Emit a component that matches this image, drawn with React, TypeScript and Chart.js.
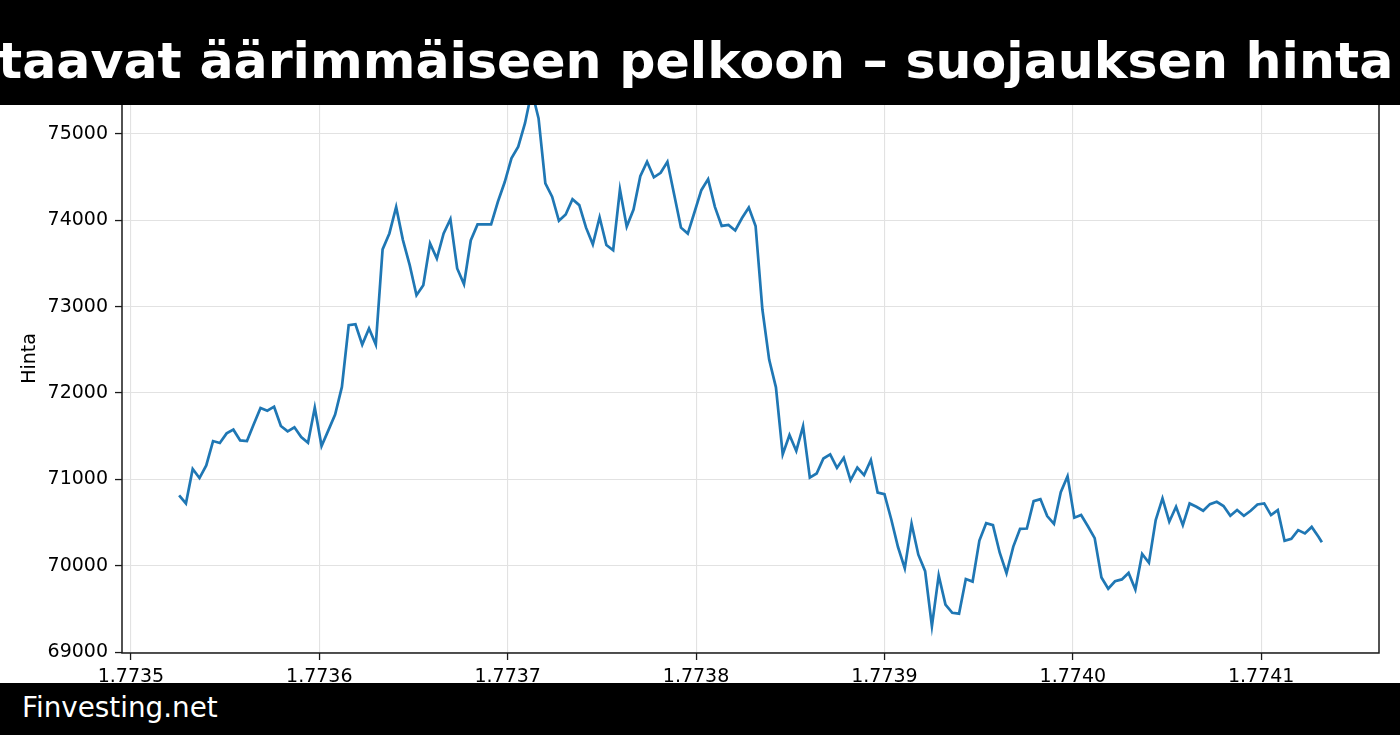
import React, { useEffect, useRef } from "react";
import { Chart, registerables } from "chart.js";

Chart.register(...registerables);

// ---- data ----
const START_TIME = 1773525600; // unix seconds of first sample
const STEP_SECONDS = 3600; // hourly samples
const LAST_STEP_SECONDS = 1800; // final (live) sample half an hour after the last hourly one

const PRICES = [
  70815, 70722, 71120, 71016, 71162, 71444, 71421, 71533, 71576, 71452,
  71444, 71638, 71827, 71796, 71842, 71618, 71556, 71603, 71491, 71425,
  71831, 71386, 71568, 71750, 72071, 72785, 72797, 72561, 72747, 72561,
  73663, 73848, 74154, 73771, 73481, 73133, 73249, 73732, 73558, 73848,
  74014, 73443, 73261, 73767, 73953, 73953, 73953, 74215, 74440, 74718,
  74853, 75124, 75500, 75180, 74428, 74273, 73995, 74068, 74244, 74176,
  73915, 73722, 74035, 73714, 73654, 74357, 73927, 74124, 74510, 74678,
  74498, 74550, 74678, 74297, 73915, 73846, 74096, 74349, 74477, 74156,
  73935, 73947, 73883, 74027, 74148, 73935, 72970, 72387, 72066, 71290,
  71515, 71330, 71616, 71021, 71069, 71242, 71290, 71133, 71250, 70990,
  71137, 71050, 71224, 70848, 70829, 70539, 70217, 69970, 70487, 70128,
  69937, 69300, 69888, 69551, 69455, 69445, 69847, 69817, 70292, 70493,
  70470, 70151, 69913, 70222, 70428, 70431, 70749, 70772, 70575, 70486,
  70851, 71037, 70557, 70588, 70458, 70320, 69865, 69735, 69820, 69842,
  69917, 69726, 70138, 70035, 70529, 70780, 70510, 70683, 70471, 70722,
  70683, 70637, 70714, 70741, 70691, 70579, 70645, 70579, 70637, 70710,
  70722, 70587, 70645, 70290, 70313, 70413, 70375, 70450, 70336, 70272,
];

const X_TICKS = [1773500000, 1773600000, 1773700000, 1773800000, 1773900000, 1774000000, 1774100000];
const Y_TICKS = [69000, 70000, 71000, 72000, 73000, 74000, 75000];

const TITLE_TEXT = "taavat äärimmäiseen pelkoon – suojauksen hinta";
const FOOTER_TEXT = "Finvesting.net";
const Y_LABEL = "Hinta";

const FONT = "'DejaVu Sans', 'Liberation Sans', sans-serif";

export default function App() {
  const canvasRef = useRef<HTMLCanvasElement | null>(null);

  useEffect(() => {
    const canvas = canvasRef.current;
    if (!canvas) return;

    const n = PRICES.length;
    const points = PRICES.map((p, i) => ({
      x: i < n - 1 ? START_TIME + i * STEP_SECONDS : START_TIME + (n - 2) * STEP_SECONDS + LAST_STEP_SECONDS,
      y: p,
    }));
    const xs = points.map((d) => d.x);
    const ys = points.map((d) => d.y);
    const xMin = Math.min(...xs);
    const xMax = Math.max(...xs);
    const yMin = Math.min(...ys);
    const yMax = Math.max(...ys);
    const xPad = (xMax - xMin) * 0.05;
    const yPad = (yMax - yMin) * 0.05;

    const framePlugin = {
      id: "frame",
      afterDatasetsDraw(chart: any) {
        const { ctx, chartArea } = chart;
        ctx.save();
        ctx.strokeStyle = "#1a1a1a";
        ctx.lineWidth = 1.5;
        ctx.strokeRect(chartArea.left, chartArea.top, chartArea.right - chartArea.left, chartArea.bottom - chartArea.top);
        ctx.restore();
      },
    };

    const chart = new Chart(canvas, {
      type: "line",
      data: {
        datasets: [
          {
            data: points,
            borderColor: "#1f77b4",
            borderWidth: 2.7,
            pointRadius: 0,
            tension: 0,
            fill: false,
          },
        ],
      },
      options: {
        animation: false,
        responsive: false,
        devicePixelRatio: 1,
        layout: { padding: { left: 0, right: 21, top: 64, bottom: 0 } },
        plugins: { legend: { display: false }, tooltip: { enabled: false }, title: { display: false } },
        scales: {
          x: {
            type: "linear",
            min: xMin - xPad,
            max: xMax + xPad,
            afterBuildTicks: (scale: any) => {
              scale.ticks = X_TICKS.map((v) => ({ value: v }));
            },
            afterFit: (scale: any) => {
              scale.height = 82;
            },
            ticks: {
              autoSkip: false,
              maxRotation: 0,
              minRotation: 0,
              padding: 6,
              color: "#000",
              font: { family: FONT, size: 19 },
              callback: (v: any) => (Number(v) / 1e9).toFixed(4),
            },
            grid: {
              color: "#e2e2e2",
              lineWidth: 1.1,
              drawTicks: true,
              tickLength: 7,
              tickColor: "#1a1a1a",
              tickWidth: 1.3,
            },
            border: { display: false },
          },
          y: {
            type: "linear",
            min: yMin - yPad,
            max: yMax + yPad,
            afterBuildTicks: (scale: any) => {
              scale.ticks = Y_TICKS.map((v) => ({ value: v }));
            },
            afterFit: (scale: any) => {
              scale.width = 122;
            },
            ticks: {
              autoSkip: false,
              padding: 7,
              color: "#000",
              font: { family: FONT, size: 19 },
              callback: (v: any) => String(v),
            },
            grid: {
              color: "#e2e2e2",
              lineWidth: 1.1,
              drawTicks: true,
              tickLength: 7,
              tickColor: "#1a1a1a",
              tickWidth: 1.3,
            },
            border: { display: false },
            title: {
              display: true,
              text: Y_LABEL,
              color: "#000",
              font: { family: FONT, size: 19 },
              padding: { top: 19, bottom: 0 },
            },
          },
        },
      },
      plugins: [framePlugin],
    });

    return () => chart.destroy();
  }, []);

  return (
    <div
      style={{
        position: "fixed",
        left: 0,
        top: 0,
        width: 1400,
        height: 735,
        background: "#fff",
        overflow: "hidden",
        fontFamily: FONT,
      }}
    >
      <canvas
        ref={canvasRef}
        width={1400}
        height={735}
        style={{ position: "absolute", left: 0, top: 0, width: 1400, height: 735 }}
      />
      <div
        style={{
          position: "absolute",
          left: 0,
          top: 0,
          width: 1400,
          height: 105,
          background: "#000",
          overflow: "hidden",
        }}
      >
        <span
          style={{
            position: "absolute",
            left: -2,
            top: 36,
            whiteSpace: "nowrap",
            color: "#fff",
            fontWeight: "bold",
            fontSize: 50.6,
            lineHeight: "50px",
          }}
        >
          {TITLE_TEXT}
        </span>
      </div>
      <div
        style={{
          position: "absolute",
          left: 0,
          top: 683,
          width: 1400,
          height: 52,
          background: "#000",
          overflow: "hidden",
        }}
      >
        <span
          style={{
            position: "absolute",
            left: 22,
            top: 10,
            whiteSpace: "nowrap",
            color: "#fff",
            fontSize: 27.8,
            lineHeight: "30px",
          }}
        >
          {FOOTER_TEXT}
        </span>
      </div>
    </div>
  );
}
